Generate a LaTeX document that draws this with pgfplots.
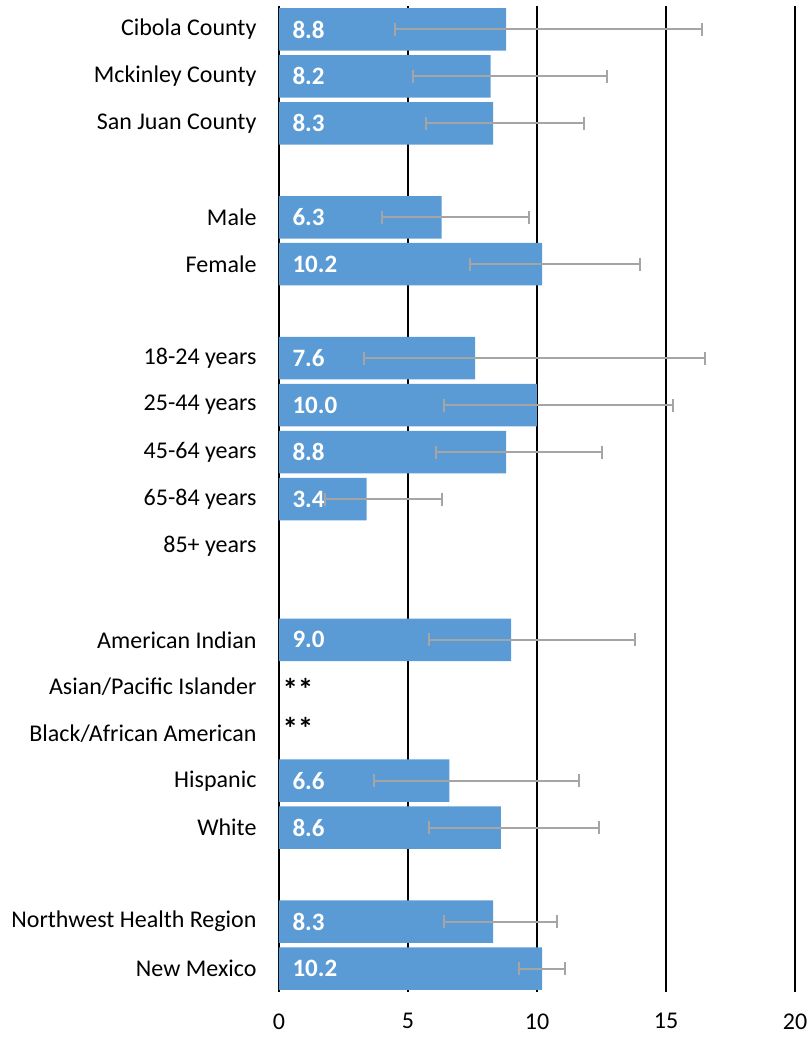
\documentclass[border=0pt]{standalone}
\usepackage{pgfplots}
\pgfplotsset{compat=1.18}
\usepackage{pgfplotstable}
\usepackage{fontspec}
\setmainfont{Carlito}

\definecolor{barblue}{HTML}{5B9BD5}
\definecolor{errgrey}{HTML}{A5A5A5}

% row, rate, lower and upper 95% confidence limits
\pgfplotstableread{
row val lo hi
0 8.8 4.49 16.39
1 8.2 5.18 12.70
2 8.3 5.70 11.82
4 6.3 4.00 9.70
5 10.2 7.40 13.99
7 7.6 3.29 16.50
8 10.0 6.41 15.28
9 8.8 6.10 12.50
10 3.4 1.79 6.30
13 9.0 5.81 13.79
16 6.6 3.69 11.61
17 8.6 5.81 12.39
19 8.3 6.41 10.79
20 10.2 9.29 11.10
}\rates

\begin{document}
\begin{tikzpicture}
\begin{axis}[
  scale only axis,
  width=516pt, height=986pt,
  xmin=0, xmax=20,
  ymin=-0.5, ymax=20.5,
  y dir=reverse,
  xtick={0,5,10,15,20},
  ytick={0,...,20},
  yticklabels={Cibola County,Mckinley County,San Juan County,{},Male,Female,{},18-24 years,25-44 years,45-64 years,65-84 years,85+ years,{},American Indian,Asian/Pacific Islander,Black/African American,Hispanic,White,{},Northwest Health Region,New Mexico},
  axis line style={draw=none},
  tick style={draw=none},
  xmajorgrids,
  grid style={black, line width=1.7pt},
  ticklabel style={font=\fontsize{24}{28}\selectfont, text=black},
  yticklabel style={xshift=-19pt},
  xticklabel style={yshift=-18pt},
  /pgf/number format/assume math mode=true,
  clip=false,
]
\addplot[
  xbar, bar width=42.5pt, fill=barblue, draw=none,
  error bars/.cd, x dir=both, x explicit,
  error bar style={color=errgrey, line width=2pt},
  error mark options={color=errgrey, line width=2pt, mark size=6.5pt, rotate=90},
] table[
  x=val, y=row,
  x error plus expr=\thisrow{hi}-\thisrow{val},
  x error minus expr=\thisrow{val}-\thisrow{lo},
] {\rates};

% value labels at the base of each bar
\addplot[
  draw=none, mark=none,
  point meta=explicit,
  nodes near coords={\pgfmathprintnumber[fixed,fixed zerofill,precision=1]{\pgfplotspointmeta}},
  nodes near coords style={anchor=west, xshift=10pt, text=white,
    font=\fontsize{25}{29}\selectfont\bfseries},
] table[x expr=0, y=row, meta=val] {\rates};

% suppressed rates
\addplot[
  draw=none, mark=none,
  point meta=explicit symbolic,
  nodes near coords={**},
  nodes near coords style={anchor=west, xshift=0pt, yshift=-3pt, text=black,
    font=\fontsize{31}{35}\selectfont\bfseries},
] coordinates {(0,14) [**]};
\addplot[
  draw=none, mark=none,
  point meta=explicit symbolic,
  nodes near coords={**},
  nodes near coords style={anchor=west, xshift=0pt, yshift=5pt, text=black,
    font=\fontsize{31}{35}\selectfont\bfseries},
] coordinates {(0,15) [**]};
\end{axis}
\pgfresetboundingbox
\path[use as bounding box] ([xshift=-279pt,yshift=-46pt]current axis.south west) rectangle ([xshift=16pt,yshift=6pt]current axis.north east);
\end{tikzpicture}
\end{document}
